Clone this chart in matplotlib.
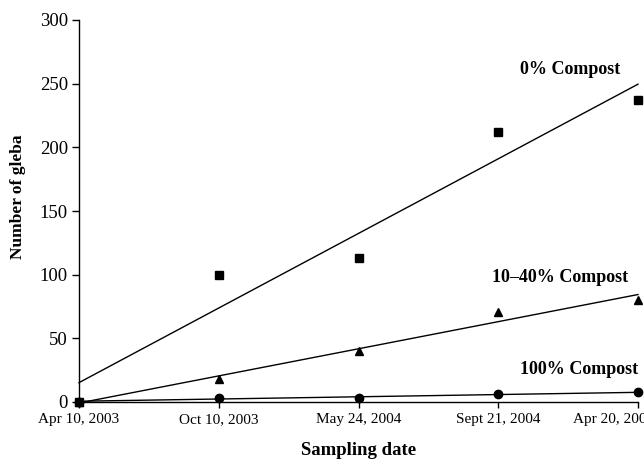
import numpy as np
import matplotlib
matplotlib.use("Agg")
import matplotlib.pyplot as plt
import matplotlib.transforms as mtransforms

dates = ["Apr 10, 2003", "Oct 10, 2003", "May 24, 2004", "Sept 21, 2004", "Apr 20, 2005"]
compost_0 = [0, 100, 113, 212, 237]
compost_10_40 = [0, 18, 40, 71, 80]
compost_100 = [0, 3.5, 3.5, 6, 7.5]
yticks = [0, 50, 100, 150, 200, 250, 300]

plt.rcParams['font.family'] = ['Liberation Serif', 'DejaVu Serif']

fig = plt.figure(figsize=(6.44, 4.66), dpi=100)
ax = fig.add_axes([79/644, 1 - 402/466, (638-79)/644, (402-20)/466])

x = np.arange(len(dates))
series = [(compost_100, 'o', 6.0), (compost_10_40, '^', 6.0), (compost_0, 's', 5.8)]
for ys, mk, ms in series:
    ys = np.asarray(ys, dtype=float)
    slope, icpt = np.polyfit(x, ys, 1)
    ax.plot(x, slope * x + icpt, color='black', lw=1.0, clip_on=False)
    ax.plot(x, ys, linestyle='none', marker=mk, markersize=ms, color='black', clip_on=False, zorder=5)

ax.set_xlim(0, 4)
ax.set_ylim(0, 300)
ax.set_xticks(x)
ax.set_xticklabels(dates, fontsize=11)
ax.set_yticks(yticks)
ax.set_yticklabels([str(v) for v in yticks], fontsize=13.5)
ax.tick_params(axis='x', direction='out', length=4, width=1, pad=4)
ax.tick_params(axis='y', direction='out', length=5, width=1, pad=3)
for s in ['top', 'right']:
    ax.spines[s].set_visible(False)
for s in ['left', 'bottom']:
    ax.spines[s].set_linewidth(1.0)

# last label is pushed left (as in the reference, where it runs into the edge)
last = ax.get_xticklabels()[-1]
last.set_transform(last.get_transform() + mtransforms.ScaledTranslation(-24/100, 0, fig.dpi_scale_trans))

ax.set_xlabel('Sampling date', fontsize=13.5, fontweight='bold')
ax.xaxis.set_label_coords(0.5, -0.105)
ax.set_ylabel('Number of gleba', fontsize=12.5, fontweight='bold')
ax.yaxis.set_label_coords(-0.095, 0.537)

ax.text(620/644, 1 - 69/466, '0% Compost', transform=fig.transFigure, ha='right', va='center',
        fontsize=13, fontweight='bold')
ax.text(628/644, 1 - 278/466, '10–40% Compost', transform=fig.transFigure, ha='right', va='center',
        fontsize=13, fontweight='bold')
ax.text(638/644, 1 - 370/466, '100% Compost', transform=fig.transFigure, ha='right', va='center',
        fontsize=13, fontweight='bold')

fig.savefig('out.png', dpi=100)
